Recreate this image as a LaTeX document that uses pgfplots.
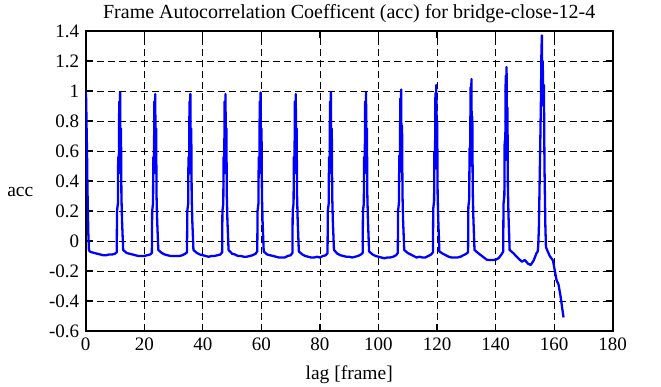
\documentclass[border=0pt]{standalone}
\usepackage{fontspec}
\setmainfont{Liberation Serif}
\usepackage{pgfplots}
\pgfplotsset{compat=1.18}
\begin{document}
\fontsize{19}{23}\selectfont
\begin{tikzpicture}
\begin{axis}[name=ax, scale only axis, width=527pt, height=300pt,
  xmin=0, xmax=180, ymin=-0.6, ymax=1.4,
  xtick={0,20,40,60,80,100,120,140,160,180},
  ytick={-0.6,-0.4,-0.2,0,0.2,0.4,0.6,0.8,1,1.2,1.4},
  grid=major,
  major grid style={black, line width=0.8pt, dash pattern=on 7pt off 4pt},
  axis line style={line width=1.8pt},
  tick style={black, line width=1.2pt}, major tick length=7pt,
  /pgf/number format/assume math mode=true,
  tick label style={font=\fontsize{19}{23}\selectfont},
  label style={font=\fontsize{19.5}{23}\selectfont},
  title style={font=\fontsize{20}{24}\selectfont, yshift=-4pt},
  title={Frame Autocorrelation Coefficent (acc) for bridge-close-12-4},
  xlabel={lag [frame]}, ylabel={acc},
  xlabel style={yshift=-3pt},
  ylabel style={rotate=-90, yshift=-11pt, xshift=-3pt},
]
\addplot[blue, line width=2.3pt, line join=round] table {
0 1.0
0.15 0.95
0.3 0.76
0.45 0.6
0.6 0.35
0.75 0.2
0.9 0.05
1.1 -0.06
1.4 -0.07
2 -0.075
3 -0.08
4 -0.085
5 -0.09
6 -0.095
7 -0.095
8 -0.09
9 -0.09
10 -0.085
10.6 -0.075
10.7 0.2
11.0 0.25
11.1 0.56
11.3 0.45
11.45 0.93
11.6 0.7
11.75 0.99
11.9 0.45
12.05 0.75
12.2 0.3
12.4 0.14
12.8 -0.06
14 -0.08
15 -0.085
16 -0.09
17 -0.095
18 -0.1
19 -0.1
20 -0.1
21 -0.095
22 -0.09
22.6 -0.08
22.7 0.2
23.0 0.25
23.1 0.56
23.3 0.45
23.45 0.93
23.6 0.7
23.75 0.98
23.9 0.45
24.05 0.75
24.2 0.3
24.4 0.14
24.8 -0.06
26 -0.08
27 -0.09
28 -0.095
29 -0.1
30 -0.1
31 -0.1
32 -0.1
33 -0.095
34 -0.085
34.6 -0.075
34.7 0.2
35.0 0.25
35.1 0.56
35.3 0.45
35.45 0.93
35.6 0.7
35.75 0.98
35.9 0.45
36.05 0.75
36.2 0.3
36.4 0.14
36.8 -0.06
38 -0.08
39 -0.09
40 -0.095
41 -0.1
42 -0.105
43 -0.1
44 -0.1
45 -0.095
46 -0.09
46.6 -0.075
46.7 0.2
47.0 0.25
47.1 0.56
47.3 0.45
47.45 0.93
47.6 0.7
47.75 0.98
47.9 0.45
48.05 0.75
48.2 0.3
48.4 0.14
48.8 -0.06
50 -0.085
51 -0.09
52 -0.1
53 -0.1
54 -0.105
55 -0.105
56 -0.1
57 -0.095
58 -0.085
58.6 -0.07
58.7 0.2
59.0 0.25
59.1 0.56
59.3 0.45
59.45 0.93
59.6 0.7
59.75 0.99
59.9 0.45
60.05 0.75
60.2 0.3
60.4 0.14
60.8 -0.07
62 -0.09
63 -0.095
64 -0.1
65 -0.105
66 -0.11
67 -0.11
68 -0.11
69 -0.1
70 -0.095
70.6 -0.08
70.7 0.2
71.0 0.25
71.1 0.56
71.3 0.45
71.45 0.93
71.6 0.7
71.75 0.98
71.9 0.45
72.05 0.75
72.2 0.3
72.4 0.14
72.8 -0.07
74 -0.09
75 -0.1
76 -0.105
77 -0.11
78 -0.11
79 -0.105
80 -0.11
81 -0.1
82 -0.095
82.6 -0.08
82.7 0.2
83.0 0.25
83.1 0.56
83.3 0.45
83.45 0.93
83.6 0.7
83.75 0.99
83.9 0.45
84.05 0.75
84.2 0.3
84.4 0.14
84.8 -0.06
86 -0.085
87 -0.095
88 -0.1
89 -0.105
90 -0.105
91 -0.11
92 -0.105
93 -0.1
94 -0.09
94.6 -0.08
94.7 0.2
95.0 0.25
95.1 0.56
95.3 0.45
95.45 0.93
95.6 0.7
95.75 0.99
95.9 0.45
96.05 0.75
96.2 0.3
96.4 0.14
96.8 -0.07
98 -0.09
99 -0.1
100 -0.105
101 -0.11
102 -0.115
103 -0.11
104 -0.11
105 -0.105
106 -0.095
106.6 -0.08
106.7 0.2
107.0 0.26
107.1 0.57
107.3 0.46
107.45 0.95
107.6 0.72
107.75 1.01
107.9 0.46
108.05 0.77
108.2 0.31
108.4 0.14
108.8 -0.06
110 -0.08
111 -0.09
112 -0.1
113 -0.11
114 -0.105
115 -0.11
116 -0.11
117 -0.1
118 -0.09
118.6 -0.075
118.7 0.215
119.0 0.268
119.1 0.596
119.3 0.48
119.45 0.986
119.6 0.744
119.75 1.04
119.9 0.48
120.05 0.796
120.2 0.319
120.4 0.152
120.8 -0.07
122 -0.085
123 -0.095
124 -0.105
125 -0.11
126 -0.11
127 -0.11
128 -0.105
129 -0.095
130 -0.085
130.6 -0.075
130.7 0.226
131.0 0.28
131.1 0.62
131.3 0.5
131.45 1.025
131.6 0.773
131.75 1.08
131.9 0.5
132.05 0.83
132.2 0.335
132.4 0.16
132.8 -0.06
134 -0.08
135 -0.095
136 -0.11
137 -0.125
138 -0.127
139 -0.127
140 -0.125
141 -0.115
142 -0.09
142.6 -0.07
142.7 0.246
143.0 0.305
143.1 0.668
143.3 0.539
143.45 1.101
143.6 0.832
143.75 1.16
143.9 0.539
144.05 0.89
144.2 0.363
144.4 0.176
144.8 -0.06
146 -0.08
147 -0.1
148 -0.12
149 -0.138
150 -0.127
151 -0.15
152 -0.16
153 -0.13
154 -0.08
154.4 -0.07
154.6 -0.02
154.8 0.1
155.1 0.46
155.3 0.7
155.5 0.96
155.65 1.25
155.8 1.37
155.95 1.0
156.1 1.2
156.3 0.9
156.5 1.04
156.7 0.5
157.0 0.1
157.2 -0.04
157.6 -0.06
158.5 -0.1
159.6 -0.13
160.2 -0.195
160.8 -0.26
161.5 -0.29
162.2 -0.37
162.7 -0.44
163.2 -0.51
};
\end{axis}
\pgfresetboundingbox
\path ([xshift=-85.7pt,yshift=-56pt]ax.south west) rectangle ([xshift=48.3pt,yshift=31pt]ax.north east);
\end{tikzpicture}
\end{document}
